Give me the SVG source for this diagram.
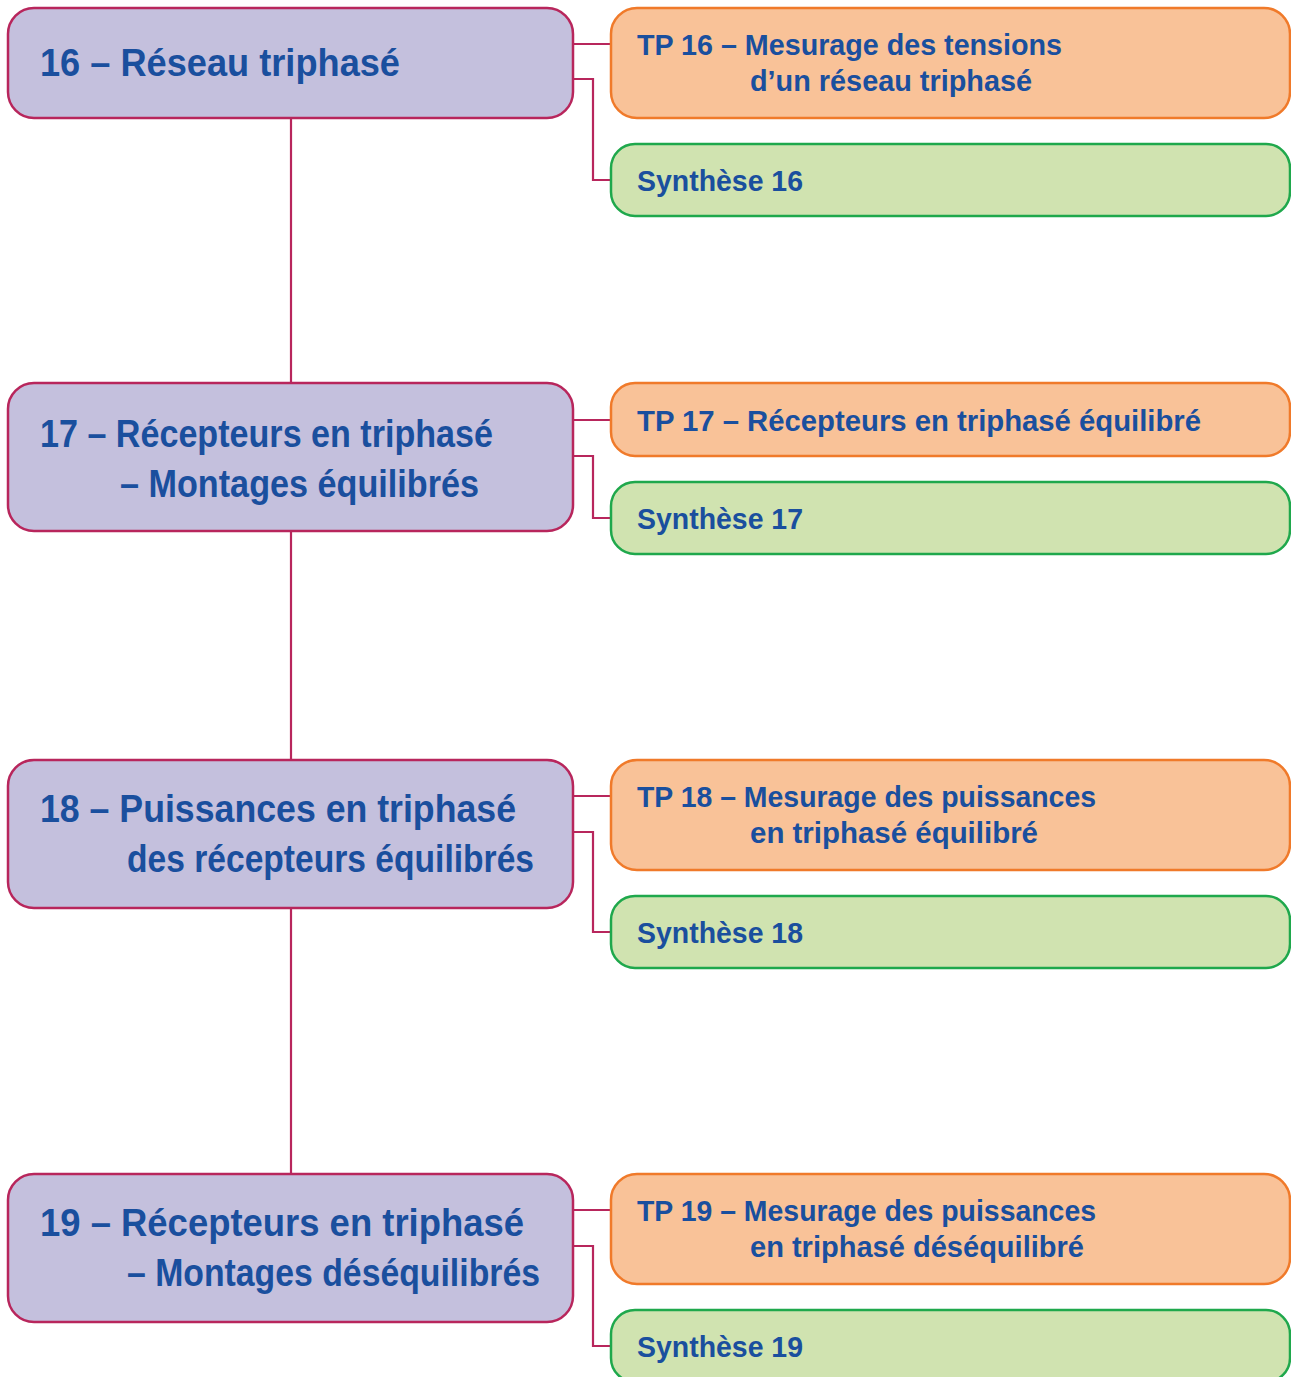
<svg xmlns="http://www.w3.org/2000/svg" width="1291" height="1377" viewBox="0 0 1291 1377">
<style>
.main{fill:#C4C0DD;stroke:#B8265C;stroke-width:2.5}
.tp{fill:#F9C298;stroke:#F07A2A;stroke-width:2.5}
.syn{fill:#D0E3B0;stroke:#1FA84C;stroke-width:2.5}
.conn{fill:none;stroke:#B8265C;stroke-width:2.2}
text{font-family:"Liberation Sans",Arial,sans-serif;font-weight:bold;fill:#1A4F9E}
.mt{font-size:38px}
.st{font-size:29px}
</style>
<rect width="1291" height="1377" fill="#FFFFFF"/>
<g id="connectors">
<path class="conn" d="M291 118V383M291 531V760M291 908V1174"/>
<path class="conn" d="M573 44H611M573 79H593V180H611"/>
<path class="conn" d="M573 420H611M573 456H593V518H611"/>
<path class="conn" d="M573 796H611M573 832H593V932H611"/>
<path class="conn" d="M573 1210H611M573 1246H593V1346H611"/>
</g>
<g id="n16">
<rect class="main" x="8" y="8" width="565" height="110" rx="26"/>
<text class="mt" x="40" y="76" textLength="360" lengthAdjust="spacingAndGlyphs">16 – Réseau triphasé</text>
</g>
<g id="tp16">
<rect class="tp" x="611" y="8" width="679" height="110" rx="26"/>
<text class="st" x="637" y="55" textLength="425" lengthAdjust="spacingAndGlyphs">TP 16 – Mesurage des tensions</text>
<text class="st" x="750" y="91" textLength="282" lengthAdjust="spacingAndGlyphs">d’un réseau triphasé</text>
</g>
<g id="s16">
<rect class="syn" x="611" y="144" width="679" height="72" rx="24"/>
<text class="st" x="637" y="191" textLength="166" lengthAdjust="spacingAndGlyphs">Synthèse 16</text>
</g>
<g id="n17">
<rect class="main" x="8" y="383" width="565" height="148" rx="26"/>
<text class="mt" x="40" y="447" textLength="453" lengthAdjust="spacingAndGlyphs">17 – Récepteurs en triphasé</text>
<text class="mt" x="120" y="497" textLength="359" lengthAdjust="spacingAndGlyphs">– Montages équilibrés</text>
</g>
<g id="tp17">
<rect class="tp" x="611" y="383" width="679" height="73" rx="24"/>
<text class="st" x="637" y="431" textLength="564" lengthAdjust="spacingAndGlyphs">TP 17 – Récepteurs en triphasé équilibré</text>
</g>
<g id="s17">
<rect class="syn" x="611" y="482" width="679" height="72" rx="24"/>
<text class="st" x="637" y="529" textLength="166" lengthAdjust="spacingAndGlyphs">Synthèse 17</text>
</g>
<g id="n18">
<rect class="main" x="8" y="760" width="565" height="148" rx="26"/>
<text class="mt" x="40" y="822" textLength="476" lengthAdjust="spacingAndGlyphs">18 – Puissances en triphasé</text>
<text class="mt" x="127" y="872" textLength="407" lengthAdjust="spacingAndGlyphs">des récepteurs équilibrés</text>
</g>
<g id="tp18">
<rect class="tp" x="611" y="760" width="679" height="110" rx="26"/>
<text class="st" x="637" y="807" textLength="459" lengthAdjust="spacingAndGlyphs">TP 18 – Mesurage des puissances</text>
<text class="st" x="750" y="843" textLength="288" lengthAdjust="spacingAndGlyphs">en triphasé équilibré</text>
</g>
<g id="s18">
<rect class="syn" x="611" y="896" width="679" height="72" rx="24"/>
<text class="st" x="637" y="943" textLength="166" lengthAdjust="spacingAndGlyphs">Synthèse 18</text>
</g>
<g id="n19">
<rect class="main" x="8" y="1174" width="565" height="148" rx="26"/>
<text class="mt" x="40" y="1236" textLength="484" lengthAdjust="spacingAndGlyphs">19 – Récepteurs en triphasé</text>
<text class="mt" x="127" y="1286" textLength="413" lengthAdjust="spacingAndGlyphs">– Montages déséquilibrés</text>
</g>
<g id="tp19">
<rect class="tp" x="611" y="1174" width="679" height="110" rx="26"/>
<text class="st" x="637" y="1221" textLength="459" lengthAdjust="spacingAndGlyphs">TP 19 – Mesurage des puissances</text>
<text class="st" x="750" y="1257" textLength="334" lengthAdjust="spacingAndGlyphs">en triphasé déséquilibré</text>
</g>
<g id="s19">
<rect class="syn" x="611" y="1310" width="679" height="72" rx="24"/>
<text class="st" x="637" y="1357" textLength="166" lengthAdjust="spacingAndGlyphs">Synthèse 19</text>
</g>
</svg>
